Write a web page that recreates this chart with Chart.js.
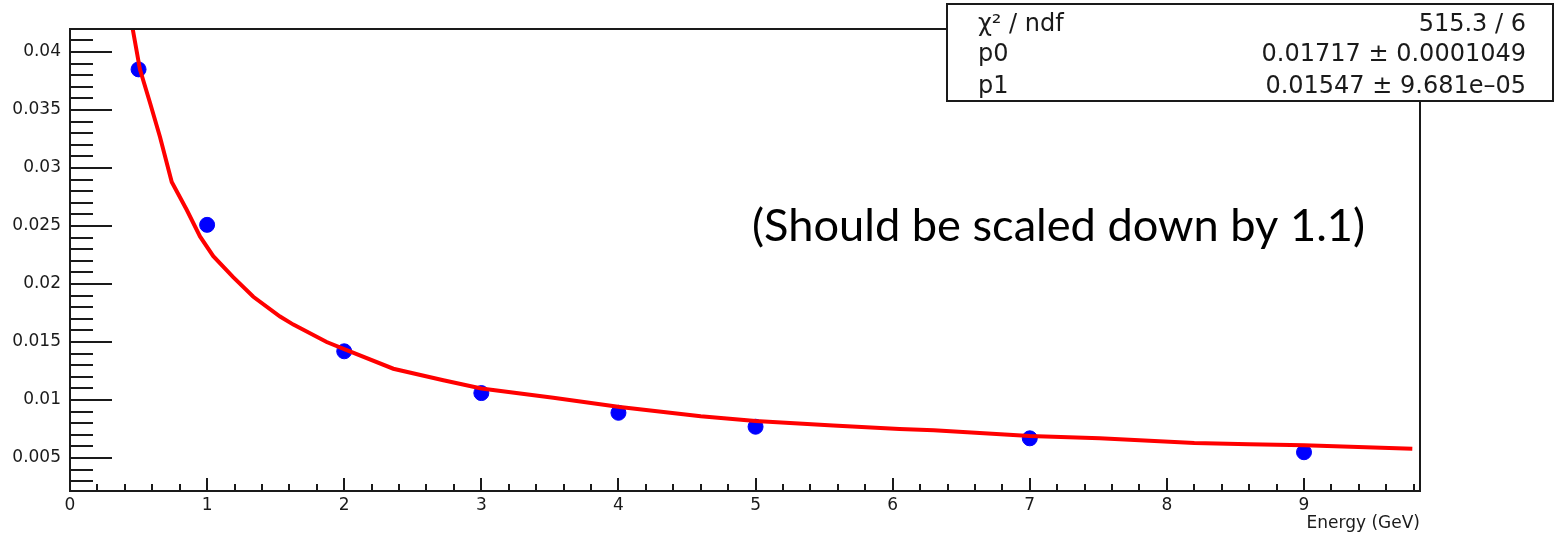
<!DOCTYPE html>
<html>
<head>
<meta charset="utf-8">
<script src="https://cdn.jsdelivr.net/npm/chart.js@4"></script>
<style>
  html, body { margin: 0; padding: 0; background: #ffffff; }
  #wrap { width: 1558px; height: 536px; }
</style>
</head>
<body>
<div id="wrap"><canvas id="c" width="1558" height="536"></canvas></div>
<script>
// ---- data ----
const pointEnergy = [0.5, 1, 2, 3, 4, 5, 7, 9];
const pointRes    = [0.0385, 0.0251, 0.0142, 0.0106, 0.0089, 0.0077, 0.0067, 0.0055];

const fitEnergy = [0.457, 0.51, 0.584, 0.656, 0.742, 0.851, 0.948, 1.045, 1.19, 1.337, 1.532, 1.629, 1.872, 2.018, 2.358, 2.723, 3.0, 3.525, 4.01, 4.6, 5.0, 5.566, 6.05, 6.3, 7.0, 7.51, 8.2, 8.6, 9.0, 9.79];
const fitRes    = [0.0420, 0.0385, 0.0356, 0.0327, 0.0288, 0.0264, 0.0241, 0.0224, 0.0206, 0.0189, 0.0172, 0.0165, 0.0150, 0.0143, 0.0127, 0.0117, 0.0110, 0.0102, 0.0094, 0.0086, 0.0082, 0.0078, 0.0075, 0.0074, 0.0069, 0.0067, 0.0063, 0.0062, 0.0061, 0.0058];

const statsLabels = ['\u03C7\u00B2 / ndf', 'p0', 'p1'];
const statsValues = ['515.3 / 6', '0.01717 \u00B1 0.0001049', '0.01547 \u00B1 9.681e\u201305'];
const noteText = '(Should be scaled down by 1.1)';
const xTitle = 'Energy (GeV)';

const X_MIN = 0, X_MAX = 9.846;
const Y_MIN = 0.00216, Y_MAX = 0.04198;

const rootFont = 'DejaVu Sans';
const ink = '#1a1a1a';

const framePlugin = {
  id: 'rootFrame',
  afterDatasetsDraw(chart) {
    const ctx = chart.ctx;
    const a = chart.chartArea;
    const xs = chart.scales.x, ys = chart.scales.y;
    ctx.save();
    ctx.strokeStyle = ink;
    ctx.lineWidth = 2;
    ctx.strokeRect(a.left, a.top, a.right - a.left, a.bottom - a.top);
    // y ticks (inside): major every 0.005, minor every 0.001
    ctx.beginPath();
    for (let i = 1; i * 0.001 <= Y_MAX + 1e-9; i++) {
      const v = i * 0.001;
      if (v < Y_MIN) continue;
      const py = Math.round(ys.getPixelForValue(v));
      const len = (i % 5 === 0) ? 42 : 23;
      ctx.moveTo(a.left, py);
      ctx.lineTo(a.left + len, py);
    }
    // x ticks (inside): major every 1, minor every 0.2
    for (let i = 1; i * 0.2 <= X_MAX + 1e-9; i++) {
      const v = i * 0.2;
      const px = Math.round(xs.getPixelForValue(v));
      const len = (i % 5 === 0) ? 13 : 7;
      ctx.moveTo(px, a.bottom);
      ctx.lineTo(px, a.bottom - len);
    }
    ctx.stroke();
    ctx.restore();
  },
  afterDraw(chart) {
    const ctx = chart.ctx;
    ctx.save();
    // stats box
    const bx = 947, by = 4, bw = 606, bh = 97;
    ctx.fillStyle = '#ffffff';
    ctx.fillRect(bx, by, bw, bh);
    ctx.strokeStyle = ink;
    ctx.lineWidth = 2;
    ctx.strokeRect(bx, by, bw, bh);
    ctx.fillStyle = ink;
    ctx.font = '24px "' + rootFont + '"';
    ctx.textBaseline = 'alphabetic';
    const rows = [31, 61, 93];
    statsLabels.forEach((t, i) => {
      ctx.textAlign = 'left';
      ctx.fillText(t, 978, rows[i]);
      ctx.textAlign = 'right';
      ctx.fillText(statsValues[i], 1526, rows[i]);
    });
    // note text, fitted to width of reference
    ctx.textAlign = 'left';
    ctx.textBaseline = 'middle';
    ctx.font = '40px Lato';
    const w = ctx.measureText(noteText).width;
    const size = 40 * 613 / w;
    ctx.font = size.toFixed(1) + 'px Lato';
    ctx.fillStyle = '#000000';
    ctx.fillText(noteText, 752, 226);
    ctx.restore();
  }
};

const chart = new Chart(document.getElementById('c'), {
  type: 'scatter',
  data: {
    datasets: [
      {
        type: 'line',
        data: fitEnergy.map((e, i) => ({ x: e, y: fitRes[i] })),
        borderColor: '#ff0000',
        borderWidth: 4,
        pointRadius: 0,
        fill: false,
        tension: 0,
        order: 0
      },
      {
        data: pointEnergy.map((e, i) => ({ x: e, y: pointRes[i] })),
        backgroundColor: '#0000ff',
        borderColor: '#0000ff',
        pointRadius: 7.5,
        pointBorderWidth: 1,
        order: 1
      }
    ]
  },
  options: {
    responsive: false,
    animation: false,
    events: [],
    layout: { padding: { top: 29, right: 138, left: 0, bottom: 0 } },
    plugins: { legend: { display: false }, tooltip: { enabled: false } },
    scales: {
      x: {
        type: 'linear',
        min: X_MIN, max: X_MAX,
        afterFit(s) { s.height = 45; },
        grid: { display: false, drawTicks: false },
        border: { display: false },
        ticks: {
          stepSize: 1, includeBounds: false, padding: 4,
          maxRotation: 0, autoSkip: false,
          color: ink, font: { family: rootFont, size: 17 },
          callback: v => String(v)
        },
        title: {
          display: true, text: xTitle, align: 'end',
          color: ink, font: { family: rootFont, size: 17 },
          padding: { top: 0, bottom: 2 }
        }
      },
      y: {
        type: 'linear',
        min: Y_MIN, max: Y_MAX,
        afterFit(s) { s.width = 70; },
        grid: { display: false, drawTicks: false },
        border: { display: false },
        ticks: {
          stepSize: 0.005, includeBounds: false, padding: 9,
          autoSkip: false,
          color: ink, font: { family: rootFont, size: 17 },
          callback: v => String(parseFloat(v.toFixed(3)))
        }
      }
    }
  },
  plugins: [framePlugin]
});
</script>
</body>
</html>
